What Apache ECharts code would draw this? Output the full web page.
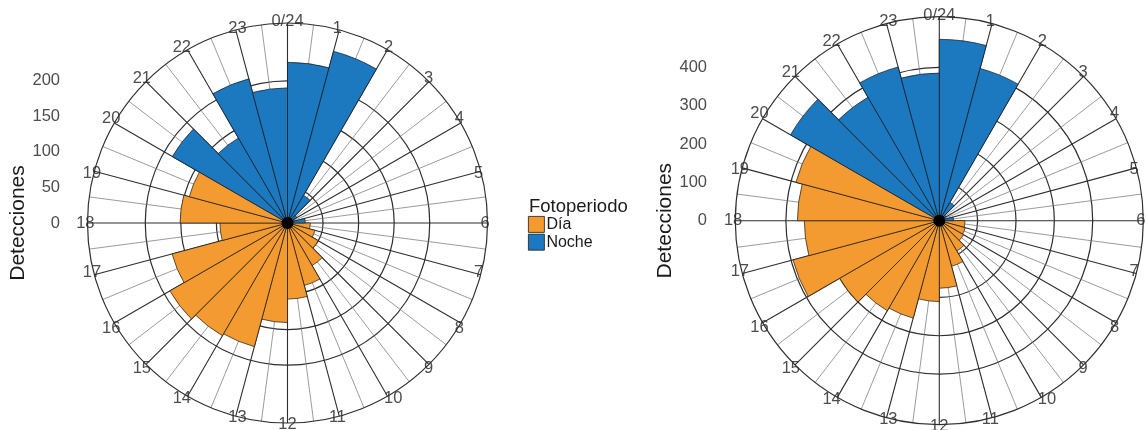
<!DOCTYPE html>
<html>
<head>
<meta charset="utf-8">
<script src="https://cdn.jsdelivr.net/npm/echarts@6/dist/echarts.min.js"></script>
<style>
  html, body { margin: 0; padding: 0; background: #fff; }
  #chart { width: 1146px; height: 430px; }
</style>
</head>
<body>
<div id="chart"></div>
<script>
// ---- data ----
const horas = [0,1,2,3,4,5,6,7,8,9,10,11,12,13,14,15,16,17,18,19,20,21,22,23];
const fotoperiodo = ['Noche','Noche','Noche','Noche','Noche','Noche',
  'Día','Día','Día','Día','Día','Día','Día','Día','Día','Día','Día','Día','Día','Día',
  'Noche','Noche','Noche','Noche'];
const deteccionesIzq = [226,250,45,15,10,25,32,40,50,69,91,107,140,180,183,191,168,95,151,143,187,138,210,190];
const deteccionesDer = [473,411,55,20,12,37,67,70,73,91,123,176,211,263,271,300,395,352,370,387,448,372,415,385];
const ticksIzq = [0,50,100,150,200];
const ticksDer = [0,100,200,300,400];
const maxIzq = 281.25;
const maxDer = 532;
const grupos = ['Día','Noche'];

// ---- styles ----
const colores = { 'Día': '#F39B31', 'Noche': '#1C79C0' };
const FONT = 'Liberation Sans, Arial, Helvetica, sans-serif';
const gridDark = '#2e2e2e';

const chart = echarts.init(document.getElementById('chart'), null, { renderer: 'canvas' });

function barSeries(name, vals, polarIndex) {
  return {
    type: 'bar', name: name, coordinateSystem: 'polar', polarIndex: polarIndex,
    stack: 's' + polarIndex, barCategoryGap: '0%',
    data: vals.map((v, i) => fotoperiodo[i] === name ? v : '-'),
    itemStyle: { color: colores[name], borderColor: '#1a1a1a', borderWidth: 0.7 },
    emphasis: { disabled: true }, z: 3
  };
}

function barAngle(polarIndex) {
  return { polarIndex: polarIndex, type: 'category', data: horas, startAngle: 90, clockwise: true,
    boundaryGap: true, axisLine: { show: false }, axisTick: { show: false },
    axisLabel: { show: false }, splitLine: { show: false } };
}
function gridAngle(polarIndex) {
  return { polarIndex: polarIndex, type: 'value', min: 0, max: 24, interval: 1, startAngle: 90, clockwise: true,
    axisLine: { lineStyle: { color: gridDark, width: 1.2 } },
    axisTick: { show: false },
    axisLabel: { margin: -7, fontSize: 16.5, color: '#4d4d4d', fontFamily: FONT,
      formatter: v => v === 0 ? '0/24' : (v === 24 ? '' : String(v)) },
    splitLine: { show: true, lineStyle: { color: gridDark, width: 1.1 } },
    minorTick: { show: false, splitNumber: 2 },
    minorSplitLine: { show: true, lineStyle: { color: '#707070', width: 0.7 } } };
}
function hiddenRadius(polarIndex, max) {
  return { polarIndex: polarIndex, type: 'value', min: 0, max: max,
    axisLine: { show: false }, axisTick: { show: false }, axisLabel: { show: false }, splitLine: { show: false } };
}
function gridRadius(polarIndex, max, ticks) {
  return { polarIndex: polarIndex, type: 'value', min: 0, max: max,
    axisLine: { show: false }, axisTick: { show: false, customValues: ticks },
    axisLabel: { show: false, customValues: ticks },
    splitLine: { show: true, lineStyle: { color: gridDark, width: 1.2 } } };
}
function labelY(gridIndex, max, ticks, gap) {
  return { gridIndex: gridIndex, type: 'value', min: -max, max: max,
    axisLine: { show: false }, axisTick: { show: false }, splitLine: { show: false },
    axisLabel: { customValues: ticks, fontSize: 16.5, color: '#4d4d4d', margin: 4, fontFamily: FONT },
    name: 'Detecciones', nameLocation: 'middle', nameRotate: 90, nameGap: gap,
    nameTextStyle: { fontSize: 21, color: '#1a1a1a', fontFamily: FONT } };
}

const cL = [287.5, 223], rL = 200;
const cR = [939.3, 220.7], rR = 204;

const option = {
  animation: false,
  textStyle: { fontFamily: FONT },
  title: { text: 'Fotoperiodo', left: 524, top: 192,
    textStyle: { fontSize: 18.5, fontWeight: 'normal', color: '#1a1a1a', fontFamily: FONT } },
  legend: { data: grupos, orient: 'vertical', left: 528, top: 216, itemWidth: 16, itemHeight: 16,
    itemGap: 1, icon: 'rect', padding: 0,
    itemStyle: { borderColor: '#1a1a1a', borderWidth: 0.8 },
    textStyle: { fontSize: 16, color: '#1a1a1a', fontFamily: FONT, padding: [0, 0, 0, -3] } },
  polar: [
    { center: cL, radius: rL },
    { center: cL, radius: rL },
    { center: cR, radius: rR },
    { center: cR, radius: rR }
  ],
  angleAxis: [ barAngle(0), gridAngle(1), barAngle(2), gridAngle(3) ],
  radiusAxis: [ hiddenRadius(0, maxIzq), gridRadius(1, maxIzq, ticksIzq),
                hiddenRadius(2, maxDer), gridRadius(3, maxDer, ticksDer) ],
  grid: [
    { left: 64, top: cL[1] - rL, width: 1, height: 2 * rL },
    { left: 711, top: cR[1] - rR, width: 1, height: 2 * rR }
  ],
  xAxis: [ { gridIndex: 0, type: 'value', show: false }, { gridIndex: 1, type: 'value', show: false } ],
  yAxis: [ labelY(0, maxIzq, ticksIzq, 33), labelY(1, maxDer, ticksDer, 35) ],
  series: [
    barSeries('Día', deteccionesIzq, 0), barSeries('Noche', deteccionesIzq, 0),
    barSeries('Día', deteccionesDer, 2), barSeries('Noche', deteccionesDer, 2)
  ],
  graphic: [
    { type: 'circle', shape: { cx: cL[0], cy: cL[1], r: 6 }, style: { fill: '#000' }, z: 100 },
    { type: 'circle', shape: { cx: cR[0], cy: cR[1], r: 6 }, style: { fill: '#000' }, z: 100 }
  ]
};
chart.setOption(option);
</script>
</body>
</html>
